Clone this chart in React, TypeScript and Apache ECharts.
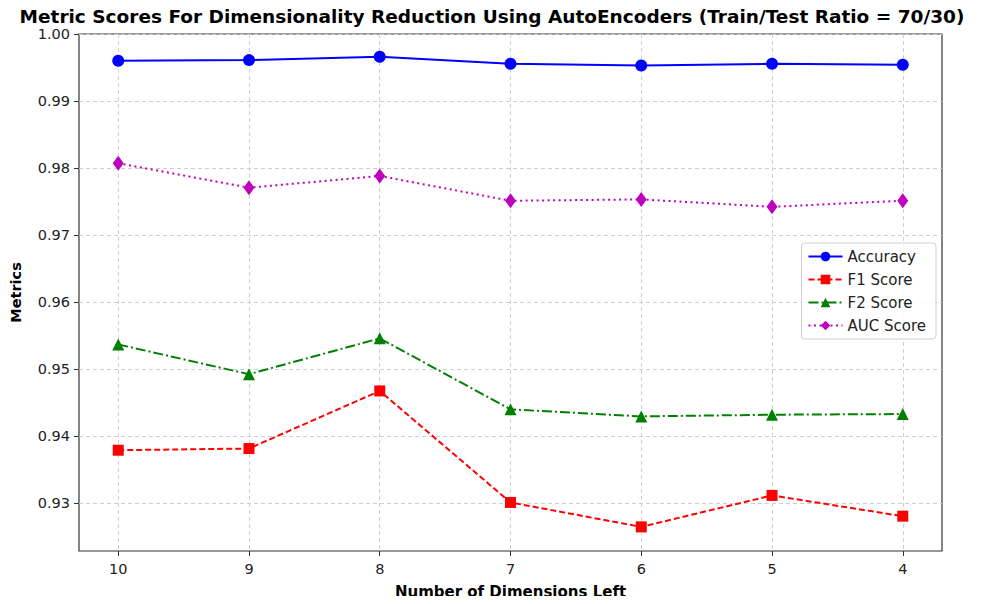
import React, { useEffect, useRef } from "react";
import * as echarts from "echarts";

const dims = [10, 9, 8, 7, 6, 5, 4];
const accuracy = [0.996, 0.9961, 0.9966, 0.99555, 0.9953, 0.99555, 0.9954];
const f1 = [0.93785, 0.9381, 0.9467, 0.93005, 0.9264, 0.9311, 0.928];
const f2 = [0.95365, 0.9492, 0.95455, 0.94395, 0.9429, 0.94315, 0.94325];
const auc = [0.9807, 0.97705, 0.9788, 0.9751, 0.9753, 0.9742, 0.9751];
const yTicks = [0.93, 0.94, 0.95, 0.96, 0.97, 0.98, 0.99, 1.0];
const xTicks = [4, 5, 6, 7, 8, 9, 10];

const FONT = "DejaVu Sans";

export default function App() {
  const ref = useRef<HTMLDivElement>(null);
  useEffect(() => {
    const chart = echarts.init(ref.current!, null, { renderer: "svg" });
    const pair = (arr: number[]) => dims.map((d, i) => [d, arr[i]]);
    const mk = (
      name: string,
      data: number[],
      color: string,
      symbol: string,
      symbolSize: number | number[],
      type: any
    ) => ({
      name,
      type: "line",
      data: pair(data),
      symbol,
      symbolSize,
      itemStyle: { color },
      lineStyle: { color, width: 2, type },
      emphasis: { disabled: true },
    });
    chart.setOption({
      animation: false,
      backgroundColor: "#ffffff",
      textStyle: { fontFamily: FONT },
      title: {
        text: "Metric Scores For Dimensionality Reduction Using AutoEncoders (Train/Test Ratio = 70/30)",
        left: "center",
        top: 2,
        textStyle: { fontFamily: FONT, fontWeight: "bold", fontSize: 18.5, color: "#000" },
      },
      grid: {
        left: 77,
        right: 42,
        top: 34,
        bottom: 53,
        show: true,
        borderColor: "#333",
        borderWidth: 1.2,
        backgroundColor: "transparent",
      },
      legend: {
        orient: "vertical",
        right: 48,
        top: 243,
        itemWidth: 34,
        itemHeight: 12,
        itemGap: 8,
        padding: [6, 10, 6, 6],
        backgroundColor: "rgba(255,255,255,0.85)",
        borderColor: "#d0d0d0",
        borderWidth: 1,
        borderRadius: 3,
        textStyle: { fontFamily: FONT, fontSize: 15, color: "#222" },
        data: ["Accuracy", "F1 Score", "F2 Score", "AUC Score"],
      },
      xAxis: {
        type: "value",
        min: 3.7,
        max: 10.3,
        inverse: true,
        name: "Number of Dimensions Left",
        nameLocation: "middle",
        nameGap: 33,
        nameTextStyle: { fontFamily: FONT, fontWeight: "bold", fontSize: 15, color: "#000" },
        axisLine: { show: false },
        axisTick: { show: true, customValues: xTicks, length: 5, inside: false, lineStyle: { color: "#333" } },
        axisLabel: { customValues: xTicks, fontSize: 14.5, color: "#222", margin: 10, fontFamily: FONT },
        splitLine: { show: true, lineStyle: { color: "#cfcfcf", type: [4, 3], width: 1 } },
      },
      yAxis: {
        type: "value",
        min: 0.9228,
        max: 1.0,
        name: "Metrics",
        nameLocation: "middle",
        nameGap: 56,
        nameTextStyle: { fontFamily: FONT, fontWeight: "bold", fontSize: 14.5, color: "#000" },
        axisLine: { show: false },
        axisTick: { show: true, customValues: yTicks, length: 5, lineStyle: { color: "#333" } },
        axisLabel: {
          customValues: yTicks,
          fontSize: 14.5,
          color: "#222",
          margin: 9,
          fontFamily: FONT,
          formatter: (v: number) => v.toFixed(2),
        },
        splitLine: { show: true, lineStyle: { color: "#cfcfcf", type: [4, 3], width: 1 } },
      },
      series: [
        mk("Accuracy", accuracy, "#0000ff", "circle", 12, "solid"),
        mk("F1 Score", f1, "#ff0000", "rect", 11, [6, 3]),
        mk("F2 Score", f2, "#008000", "triangle", 12, [10, 3, 2, 3]),
        mk("AUC Score", auc, "#bf00bf", "diamond", [11, 15], [2, 3.5]),
      ],
    });
    return () => chart.dispose();
  }, []);
  return <div ref={ref} style={{ width: 984, height: 604, margin: -8 }} />;
}
